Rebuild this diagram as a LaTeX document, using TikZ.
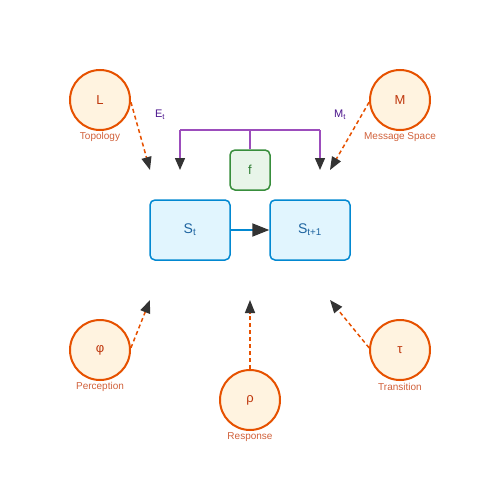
\documentclass[tikz,border=0pt]{standalone}
\usepackage{fontspec}
\setmainfont{Liberation Sans}
\usetikzlibrary{arrows.meta}
\definecolor{orline}{HTML}{E65100}
\definecolor{orfill}{HTML}{FFF3E0}
\definecolor{ortext}{HTML}{BF360C}
\definecolor{orlabel}{HTML}{D0603A}
\definecolor{blline}{HTML}{0288D1}
\definecolor{blfill}{HTML}{E1F5FE}
\definecolor{bltext}{HTML}{1E64A0}
\definecolor{grline}{HTML}{388E3C}
\definecolor{grfill}{HTML}{E8F5E9}
\definecolor{grtext}{HTML}{2E7D32}
\definecolor{puline}{HTML}{9C4DBC}
\definecolor{putext}{HTML}{4A148C}
\definecolor{tipcol}{HTML}{333333}
\tikzset{
  opnode/.style={circle,draw=orline,fill=orfill,line width=2pt,minimum size=60pt,inner sep=0pt,text=ortext,font=\fontsize{13}{15}\selectfont},
  oplabel/.style={text=orlabel,font=\fontsize{10}{12}\selectfont,inner sep=0pt},
  statebox/.style={rectangle,rounded corners=5pt,draw=blline,fill=blfill,line width=1.5pt,minimum width=80pt,minimum height=60pt,inner sep=0pt,text=bltext,font=\fontsize{14}{16}\selectfont},
  fbox/.style={rectangle,rounded corners=5pt,draw=grline,fill=grfill,line width=1.5pt,minimum width=40pt,minimum height=40pt,inner sep=0pt,text=grtext,font=\fontsize{13}{15}\selectfont},
  dasharrow/.style={draw=orline,line width=1.5pt,dash pattern=on 4pt off 3pt,-{Triangle[length=13pt,width=10pt,color=tipcol]}},
  purarrow/.style={draw=puline,line width=1.5pt,-{Triangle[length=12pt,width=10pt,color=tipcol]}},
  purline/.style={draw=puline,line width=1.5pt},
  bluearrow/.style={draw=blline,line width=2pt,-{Triangle[length=17pt,width=13pt,color=tipcol]}},
  putxt/.style={text=putext,font=\fontsize{11}{13}\selectfont,inner sep=0pt}
}
\begin{document}
\begin{tikzpicture}[x=1pt,y=-1pt]
\useasboundingbox (0,0) rectangle (500,500);
% operator circles
\node[opnode] (L) at (100,100) {L};
\node[opnode] (M) at (400,100) {M};
\node[opnode] (phi) at (100,350) {φ};
\node[opnode] (rho) at (250,400) {ρ};
\node[opnode] (tau) at (400,350) {τ};
\node[oplabel] (Ll) at (100,137) {Topology};
\node[oplabel] (Ml) at (400,137) {Message Space};
\node[oplabel] (phil) at (100,387) {Perception};
\node[oplabel] (rhol) at (250,437) {Response};
\node[oplabel] (taul) at (400,387) {Transition};
% state boxes
\node[statebox] (St) at (190,230) {S\textsubscript{t}};
\node[statebox] (St1) at (310,230) {S\textsubscript{t+1}};
\node[fbox] (f) at (250,170) {f};
% transition arrow
\draw[bluearrow] (St.east) -- (St1.west);
% purple branches
\coordinate (fj) at (250,130);
\coordinate (lj) at (180,130);
\coordinate (rj) at (320,130);
\coordinate (le) at (180,170);
\coordinate (re) at (320,170);
\draw[purline] (f.north) -- (fj);
\draw[purline] (lj) -- (rj);
\draw[purarrow] (lj) -- (le);
\draw[purarrow] (rj) -- (re);
\node[putxt] (Et) at (160,115) {E\textsubscript{t}};
\node[putxt] (Mt) at (340,115) {M\textsubscript{t}};
% dashed operator arrows
\coordinate (Le) at (150,170);
\coordinate (Me) at (330,170);
\coordinate (phie) at (150,300);
\coordinate (rhoe) at (250,300);
\coordinate (taue) at (330,300);
\draw[dasharrow] (L.-4) -- (Le);
\draw[dasharrow] (M.184) -- (Me);
\draw[dasharrow] (phi.4) -- (phie);
\draw[dasharrow] (rho.north) -- (rhoe);
\draw[dasharrow] (tau.176) -- (taue);
\end{tikzpicture}
\end{document}
